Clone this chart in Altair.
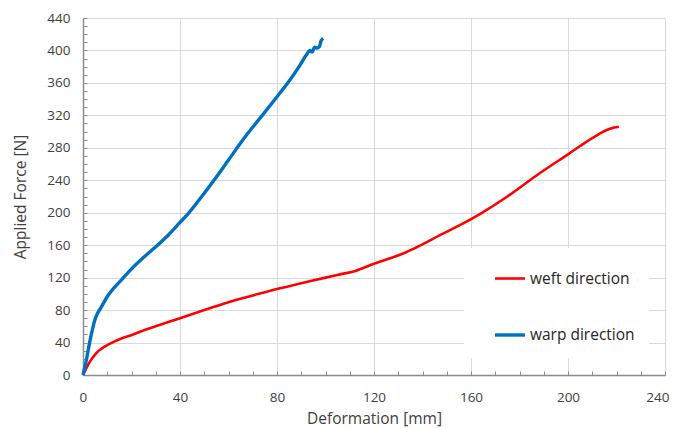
import altair as alt
import pandas as pd

# ---- data ----
weft_x = [0, 1, 2, 3.2, 4.8, 6.5, 8.9, 12, 15.8, 20.7, 25.4, 30.9, 40, 50, 62, 70, 80, 90, 100,
          106, 112, 120, 133, 140, 147, 155, 164, 175, 188, 200, 210, 216, 219, 221]
weft_y = [0, 6, 12, 18, 24.5, 30, 35, 40, 45, 50, 55.5, 61, 70, 80, 91.6, 98, 106, 113, 120,
          124, 128, 137, 151, 161, 172, 184, 199, 220, 248, 272, 292, 302, 305, 306]

warp_x = [0, 0.7, 1.4, 2.1, 2.8, 3.8, 4.8, 6, 7.6, 10.3, 13, 15.8, 20.7, 25, 30, 35, 40,
          43.4, 50, 55, 60, 67.5, 75, 80, 85.4, 89.5, 92, 93.6, 94.5, 95.5, 96.5, 97.5, 98.2, 99]
warp_y = [0, 9, 18.5, 30, 41, 55, 67, 76, 84, 98, 108, 117, 133, 145, 158, 172, 188,
          199, 224, 244, 265, 296, 324, 343, 364, 382, 394, 400, 398, 404, 403, 405, 412, 415]

series_names = ["weft direction", "warp direction"]
series_colors = ["#ff0000", "#0070c0"]
series_widths = [2.6, 3.4]

x_major = [0, 40, 80, 120, 160, 200, 240]
y_major = [0, 40, 80, 120, 160, 200, 240, 280, 320, 360, 400, 440]
x_minor = list(range(0, 241, 10))
y_minor = list(range(0, 441, 10))

rows = []
for i, (xv, yv) in enumerate(zip(weft_x, weft_y)):
    rows.append({"Deformation": xv, "Force": yv, "Series": series_names[0], "idx": i})
for i, (xv, yv) in enumerate(zip(warp_x, warp_y)):
    rows.append({"Deformation": xv, "Force": yv, "Series": series_names[1], "idx": i})
df = pd.DataFrame(rows)

FONT = "Open Sans"
TXT = "#404040"
AXIS_COL = "#8c8c8c"
GRID_COL = "#d9d9d9"

xscale = alt.Scale(domain=[0, 240], nice=False, zero=True)
yscale = alt.Scale(domain=[0, 440], nice=False, zero=True)

base = alt.Chart(df)

lines = base.mark_line(interpolate="monotone").encode(
    x=alt.X("Deformation:Q", scale=xscale,
            axis=alt.Axis(values=x_major, title="Deformation [mm]", grid=True,
                          gridColor=GRID_COL, gridWidth=1, ticks=False, tickSize=0,
                          domainColor=AXIS_COL, domainWidth=1.5, labelPadding=15,
                          labelFlush=True, labelFlushOffset=4, labelOverlap=False,
                          labelFontSize=13.5, labelFont=FONT, labelColor=TXT,
                          titleFont=FONT, titleFontSize=15.5, titleFontWeight="normal",
                          titleColor=TXT, titlePadding=8)),
    y=alt.Y("Force:Q", scale=yscale,
            axis=alt.Axis(values=y_major, title="Applied Force [N]", grid=True,
                          gridColor=GRID_COL, gridWidth=1, ticks=False, tickSize=0,
                          domainColor=AXIS_COL, domainWidth=1.5, labelPadding=13,
                          labelFlush=False, labelOverlap=False,
                          labelFontSize=13.5, labelFont=FONT, labelColor=TXT,
                          titleFont=FONT, titleFontSize=15.5, titleFontWeight="normal",
                          titleColor=TXT, titlePadding=18)),
    color=alt.Color("Series:N",
                    scale=alt.Scale(domain=series_names, range=series_colors),
                    legend=alt.Legend(title=None, orient="none", legendX=381, legendY=230,
                                      fillColor="white", padding=14, symbolOffset=15,
                                      symbolType="stroke",
                                      symbolSize=900, symbolStrokeWidth=3, labelOffset=3,
                                      rowPadding=31, labelFont=FONT, labelFontSize=15.5,
                                      labelColor="#262626", labelLimit=220)),
    strokeWidth=alt.StrokeWidth("Series:N",
                                scale=alt.Scale(domain=series_names, range=series_widths),
                                legend=None),
    order="idx:Q",
    detail="Series:N",
)

ticks_layer = base.mark_line(strokeOpacity=0).encode(
    x=alt.X("Deformation:Q", scale=xscale,
            axis=alt.Axis(orient="top", offset=-357, values=x_minor, labels=False,
                          title=None, grid=False, domain=False, ticks=True, tickSize=4,
                          tickColor=AXIS_COL, tickWidth=1)),
    y=alt.Y("Force:Q", scale=yscale,
            axis=alt.Axis(orient="right", offset=-582, values=y_minor, labels=False,
                          title=None, grid=False, domain=False, ticks=True, tickSize=4,
                          tickColor=AXIS_COL, tickWidth=1)),
    detail="Series:N",
)

chart = alt.layer(lines, ticks_layer).resolve_axis(
    x="independent", y="independent"
).properties(
    width=582, height=357,
    autosize=alt.AutoSizeParams(type="none"),
    padding={"left": 75, "top": 10, "right": 6, "bottom": 53},
    background="white",
).configure_view(stroke=None)

chart.save("out.html", embed_options={"renderer": "svg", "actions": False})
